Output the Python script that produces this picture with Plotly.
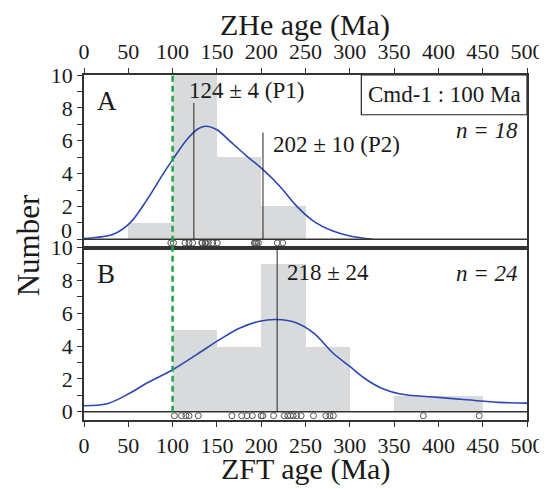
import plotly.graph_objects as go

# ---------------- data ----------------
bin_left = [0, 50, 100, 150, 200, 250, 300, 350, 400, 450]
bin_width = 50
counts_A = [0, 1, 10, 5, 2, 0, 0, 0, 0, 0]
counts_B = [0, 0, 5, 4, 9, 4, 0, 1, 1, 0]

curveA_x = [0, 15, 33, 52, 71, 89.5, 100, 116, 128, 137, 150, 165, 184, 202, 221, 240, 259, 281, 300, 326]
curveA_y = [0.04, 0.12, 0.3, 1.0, 2.4, 4.0, 4.85, 6.06, 6.7, 6.88, 6.67, 5.96, 5.05, 4.24, 3.23, 2.02, 1.11, 0.5, 0.2, 0.0]

curveB_x = [0, 26, 52, 71, 100, 127, 153, 176, 198, 217, 240, 259, 281, 300, 319, 338, 357, 394, 432, 469, 500]
curveB_y = [0.37, 0.49, 1.14, 1.75, 2.56, 3.48, 4.39, 5.1, 5.51, 5.62, 5.41, 4.8, 3.58, 2.76, 1.95, 1.38, 1.08, 0.9, 0.73, 0.57, 0.53]

dots_A = [98, 101, 114, 118.5, 122.6, 132.8, 133.5, 136.6, 137.5, 140.3, 145.2, 150.5,
          192.2, 193.5, 194.9, 196.8, 218.2, 224.2]
dots_B = [102, 110, 115, 118.5, 129, 167, 178, 184, 190, 200, 202, 214, 226, 230, 233,
          236, 240, 245, 259, 273, 277.6, 281.4, 383, 446]

peaks_A = [124, 202]
peaks_A_height = [8.3, 6.5]
peak_B = 218
ref_age = 100

x_ticks = [0, 50, 100, 150, 200, 250, 300, 350, 400, 450, 500]
y_ticks_A = [2, 4, 6, 8, 10]
y_ticks_B = [0, 2, 4, 6, 8, 10]

FONT = "Liberation Serif"
TXT = "#1a1a1a"
AX = "#333333"
BAR = "#d9dadc"
BLUE = "#2b47b3"
GREEN = "#1fa64a"
TICK_SIZE = 22

fig = go.Figure()

bar_x = [b + bin_width / 2 for b in bin_left]
fig.add_trace(go.Bar(x=bar_x, y=counts_A, width=bin_width, marker=dict(color=BAR, line=dict(width=0)),
                     xaxis="x2", yaxis="y", showlegend=False))
fig.add_trace(go.Bar(x=bar_x, y=counts_B, width=bin_width, marker=dict(color=BAR, line=dict(width=0)),
                     xaxis="x", yaxis="y2", showlegend=False))

fig.add_trace(go.Scatter(x=curveA_x, y=curveA_y, mode="lines", line=dict(color=BLUE, width=1.6, shape="spline"),
                         xaxis="x2", yaxis="y", showlegend=False))
fig.add_trace(go.Scatter(x=curveB_x, y=curveB_y, mode="lines", line=dict(color=BLUE, width=1.6, shape="spline"),
                         xaxis="x", yaxis="y2", showlegend=False))

marker = dict(symbol="circle-open", size=6, color="#555555", line=dict(width=1))
fig.add_trace(go.Scatter(x=dots_A, y=[-0.22] * len(dots_A), mode="markers", marker=marker,
                         xaxis="x2", yaxis="y", showlegend=False))
fig.add_trace(go.Scatter(x=dots_B, y=[-0.24] * len(dots_B), mode="markers", marker=marker,
                         xaxis="x", yaxis="y2", showlegend=False))

shapes = []
shapes.append(dict(type="line", xref="x2", yref="y", x0=0, x1=500, y0=0, y1=0, line=dict(color=AX, width=1.6)))
shapes.append(dict(type="line", xref="x", yref="y2", x0=0, x1=500, y0=0, y1=0, line=dict(color=AX, width=1.6)))
for px, ph in zip(peaks_A, peaks_A_height):
    shapes.append(dict(type="line", xref="x2", yref="y", x0=px, x1=px, y0=0, y1=ph, line=dict(color="#222", width=1)))
shapes.append(dict(type="line", xref="x", yref="y2", x0=peak_B, x1=peak_B, y0=0, y1=10, line=dict(color="#222", width=1)))
shapes.append(dict(type="line", xref="x", yref="paper", x0=ref_age, x1=ref_age, y0=0.5 * 0.5 / 10.5, y1=1,
                   line=dict(color=GREEN, width=2.5, dash="6px,4px")))
shapes.append(dict(type="rect", xref="x2", yref="y", x0=313, x1=500, y0=7.58, y1=10,
                   line=dict(color="#222", width=1.2), fillcolor="white"))
fig.update_layout(shapes=shapes)

ann = []
def a(text, x, y, xref, yref, size=23, xanchor="center", italic=False):
    t = f"<i>{text}</i>" if italic else text
    ann.append(dict(text=t, x=x, y=y, xref=xref, yref=yref, showarrow=False, xanchor=xanchor, yanchor="middle",
                    font=dict(family=FONT, size=size, color=TXT)))

a("124 ± 4 (P1)", 183, 9.03, "x2", "y")
a("202 ± 10 (P2)", 285, 5.76, "x2", "y")
a("218 ± 24", 227, 8.48, "x", "y2", xanchor="left")
a("A", 25.6, 8.42, "x2", "y", size=27)
a("B", 24.8, 8.41, "x", "y2", size=27)
a("n = 18", 492, 6.6, "x2", "y", xanchor="right", italic=True)
a("n = 24", 492, 8.41, "x", "y2", xanchor="right", italic=True)
a("Cmd-1 : 100 Ma", 406.5, 8.8, "x2", "y")
a("ZHe age (Ma)", 0.499, 1.145, "paper", "paper", size=30)
a("ZFT age (Ma)", 0.499, -0.141, "paper", "paper", size=30)
ann.append(dict(text="Number", x=-0.126, y=0.507, xref="paper", yref="paper", showarrow=False, textangle=-90,
                xanchor="center", yanchor="middle", font=dict(family=FONT, size=31, color=TXT)))
ann.append(dict(text="0", x=-0.022, y=0.55, xref="paper", yref="y", showarrow=False, xanchor="right",
                yanchor="middle", font=dict(family=FONT, size=TICK_SIZE, color=TXT)))
fig.update_layout(annotations=ann)

xcommon = dict(range=[0, 500], tickvals=x_ticks, showline=True, linecolor=AX, linewidth=1.8, mirror=True,
               ticks="outside", ticklen=5, tickcolor=AX, tickwidth=1.2, showgrid=False, zeroline=False,
               automargin=False, ticklabeloverflow="allow",
               tickfont=dict(family=FONT, size=TICK_SIZE, color=TXT))
ycommon = dict(range=[-0.5, 10], showline=True, linecolor=AX, linewidth=1.8, mirror=True,
               ticks="outside", ticklen=5, tickcolor=AX, tickwidth=1.2, showgrid=False, zeroline=False,
               automargin=False, tickfont=dict(family=FONT, size=TICK_SIZE, color=TXT),
               minor=dict(tickvals=[1, 3, 5, 7, 9, 0], ticks="outside", ticklen=5, tickcolor=AX, tickwidth=1.2,
                          showgrid=False))

# the page body adds an 8px offset, so the figure is 8px smaller and margins shifted accordingly
fig.update_layout(
    width=539, height=481,
    margin=dict(l=76, r=20, t=67, b=69, autoexpand=False),
    paper_bgcolor="white", plot_bgcolor="white",
    barmode="overlay", bargap=0,
    xaxis=dict(domain=[0, 1], anchor="y2", side="bottom", **xcommon),
    xaxis2=dict(domain=[0, 1], anchor="y", side="top", **xcommon),
    yaxis=dict(domain=[0.5, 1], anchor="x2", tickvals=y_ticks_A, **ycommon),
    yaxis2=dict(domain=[0, 0.5], anchor="x", tickvals=y_ticks_B, **ycommon),
    font=dict(family=FONT, color=TXT),
)

fig.write_html("out.html")
